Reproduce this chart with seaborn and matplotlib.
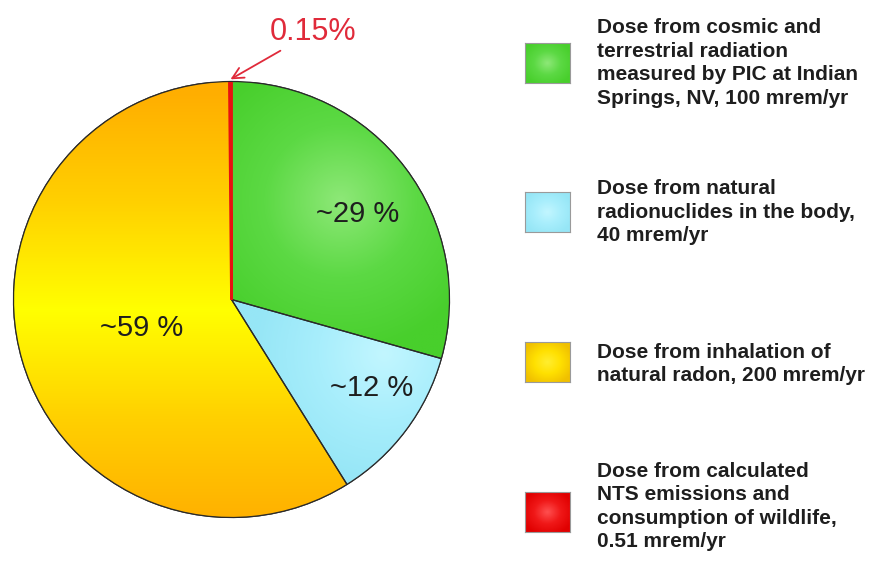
import numpy as np
import matplotlib
matplotlib.use("Agg")
import matplotlib.pyplot as plt
import seaborn as sns
from matplotlib.patches import Wedge
from matplotlib.colors import LinearSegmentedColormap

sns.set_theme(style="white")
plt.rcParams['font.family'] = ['Liberation Sans', 'DejaVu Sans']

# ---- data ----
categories = [
    "Dose from cosmic and\nterrestrial radiation\nmeasured by PIC at Indian\nSprings, NV, 100 mrem/yr",
    "Dose from natural\nradionuclides in the body,\n40 mrem/yr",
    "Dose from inhalation of\nnatural radon, 200 mrem/yr",
    "Dose from calculated\nNTS emissions and\nconsumption of wildlife,\n0.51 mrem/yr",
]
doses = [100, 40, 200, 0.51]
pct_labels = ["~29 %", "~12 %", "~59 %", "0.15%"]

# ---- styles ----
base_colors = ["#52d63a", "#a6eefc", "#ffd800", "#ee1010"]
grad_stops = [
    ["#48cf2c", "#5cd944", "#8ee878"],   # green: edges -> centre
    ["#96e6f6", "#a8eefc", "#c2f6ff"],   # cyan
    ["#ffae00", "#ffd000", "#ffff00"],   # yellow/orange
    ["#e00000", "#f01818", "#ff5050"],   # red
]
box_stops = [
    ["#48cf2c", "#5cd944", "#8ee878"],
    ["#96e6f6", "#a8eefc", "#c2f6ff"],
    ["#f0c000", "#ffe000", "#ffee30"],
    ["#e00000", "#f01818", "#ff5050"],
]
label_pos = [(0.58, 0.39), (0.645, -0.405), (-0.41, -0.13)]

W, H = 879, 561
fig = plt.figure(figsize=(W / 100, H / 100), dpi=100)
fig.patch.set_facecolor("white")

cx, cy, R = 231.5, 299.5, 218.0
ax = fig.add_axes([(cx - R) / W, (H - cy - R) / H, 2 * R / W, 2 * R / H])
wedges, _ = ax.pie(doses, startangle=90, counterclock=False,
                   colors=base_colors,
                   wedgeprops=dict(edgecolor="#2a2a2a", linewidth=0.9))

yy, xx = np.mgrid[1:-1:400j, -1:1:400j]
for i, w in enumerate(wedges):
    cmap = LinearSegmentedColormap.from_list("g%d" % i, grad_stops[i])
    if i == 2:
        val = 1 - np.abs(yy + 0.05) / 1.0
    elif i == 0:
        val = 1 - np.clip(np.hypot(xx - 0.5, yy - 0.45) / 0.7, 0, 1)
    elif i == 1:
        val = 1 - np.clip(np.hypot(xx - 0.7, yy + 0.25) / 0.6, 0, 1)
    else:
        val = np.ones_like(xx) * 0.5
    im = ax.imshow(val, extent=[-1, 1, -1, 1], cmap=cmap, vmin=0, vmax=1,
                   zorder=w.get_zorder() + 0.1, interpolation="bilinear")
    im.set_clip_path(w)
    if i == 3:
        ec, lw = "#e81010", 2.0
    else:
        ec, lw = "#2a2a2a", 0.9
    ax.add_patch(Wedge(w.center, w.r, w.theta1, w.theta2, fill=False,
                       edgecolor=ec, linewidth=lw, zorder=w.get_zorder() + 0.2))

# percentage labels inside the slices
for i in range(3):
    ax.text(label_pos[i][0], label_pos[i][1], pct_labels[i],
            ha="center", va="center", fontsize=21, color="#1e1e1e", zorder=10)

# tiny slice annotation
w = wedges[3]
mid = np.deg2rad((w.theta1 + w.theta2) / 2)
ax.annotate(pct_labels[3], xy=(1.01 * np.cos(mid), 1.01 * np.sin(mid)),
            xytext=(0.375, 1.225), ha="center", va="center", fontsize=22,
            color="#e02a3a", annotation_clip=False, zorder=10,
            arrowprops=dict(arrowstyle="->", color="#e02a3a", lw=1.3,
                            relpos=(0.32, 0.22), shrinkA=0, shrinkB=0,
                            mutation_scale=20))

ax.set_xlim(-1, 1)
ax.set_ylim(-1, 1)
ax.set_aspect("equal")
ax.axis("off")

# ---- legend ----
box_cy = [63, 212, 362, 512]
text_cy = [63, 212, 364, 506.5]
for i, lab in enumerate(categories):
    bw, bh = 45, 40
    bax = fig.add_axes([525 / W, (H - box_cy[i] - bh / 2) / H, bw / W, bh / H])
    by, bx = np.mgrid[1:-1:50j, -1:1:50j]
    cmap = LinearSegmentedColormap.from_list("b%d" % i, box_stops[i])
    bval = 1 - np.clip(np.hypot(bx, by) / 1.2, 0, 1)
    bax.imshow(bval, extent=[0, 1, 0, 1], cmap=cmap, vmin=0, vmax=1,
               aspect="auto", interpolation="bilinear")
    bax.set_xticks([])
    bax.set_yticks([])
    for s in bax.spines.values():
        s.set_color("#9a9a9a")
        s.set_linewidth(0.8)
    fig.text(597 / W, (H - text_cy[i]) / H, lab, ha="left", va="center",
             fontsize=15, fontweight="bold", color="#1e1e1e", linespacing=1.3)

fig.savefig("out.png", dpi=100, facecolor="white")
